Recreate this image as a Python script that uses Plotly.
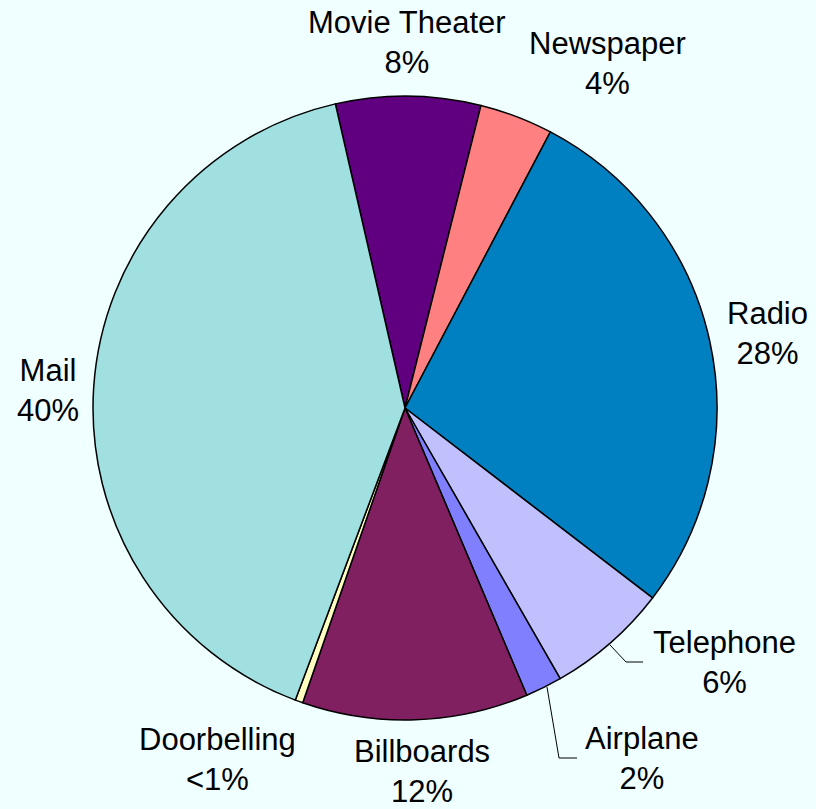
import plotly.graph_objects as go

# Data
categories = ["Movie Theater", "Newspaper", "Radio", "Telephone", "Airplane",
              "Billboards", "Doorbelling", "Mail"]
values = [7.5, 3.8, 27.7, 6.3, 1.9, 11.7, 0.4, 40.7]
pct_labels = ["8%", "4%", "28%", "6%", "2%", "12%", "<1%", "40%"]
colors = ["#600080", "#FF8080", "#0080C0", "#C0C0FF", "#8080FF",
          "#802060", "#FFFFC0", "#A0E0E0"]

W, H = 816, 809
cx, cy, R = 405, 408, 312

fig = go.Figure(go.Pie(
    labels=categories,
    values=values,
    sort=False,
    direction="clockwise",
    rotation=-12.9,
    marker=dict(colors=colors, line=dict(color="black", width=1.5)),
    textinfo="none",
    textposition="none",
    showlegend=False,
    domain=dict(x=[(cx - R) / W, (cx + R) / W],
                y=[(H - cy - R) / H, (H - cy + R) / H]),
))

# label positions (pixel centers)
label_pos = {
    "Movie Theater": (407, 42),
    "Newspaper": (607, 64),
    "Radio": (767, 333),
    "Mail": (48, 390),
    "Telephone": (724, 662),
    "Airplane": (642, 758),
    "Doorbelling": (217, 759),
    "Billboards": (422, 771),
}
annotations = []
for cat, pct in zip(categories, pct_labels):
    px, py = label_pos[cat]
    annotations.append(dict(
        x=px / W, y=1 - py / H, xref="paper", yref="paper",
        text=f"{cat}<br>{pct}", showarrow=False,
        xanchor="center", yanchor="middle",
        font=dict(family="Liberation Sans, Arial", size=31, color="black"),
    ))

def pline(pts):
    path = "M " + " L ".join(f"{x/W},{1 - y/H}" for x, y in pts)
    return dict(type="path", xref="paper", yref="paper", path=path,
                line=dict(color="black", width=1))

shapes = [
    pline([(610, 645), (626, 662), (643, 662)]),
    pline([(547, 687), (559, 758), (577, 758)]),
]

fig.update_layout(
    width=W, height=H,
    margin=dict(l=0, r=0, t=0, b=0),
    paper_bgcolor="#F0FFFF",
    plot_bgcolor="#F0FFFF",
    annotations=annotations,
    shapes=shapes,
)

fig.write_html("out.html",
               config={"displayModeBar": False},
               post_script="document.body.style.margin='0px';document.body.style.overflow='hidden';")
